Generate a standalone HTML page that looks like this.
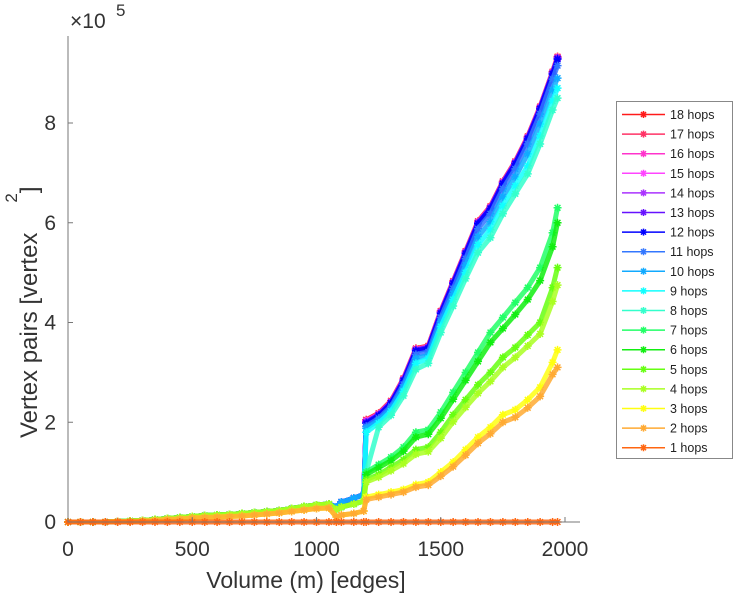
<!DOCTYPE html>
<html><head><meta charset="utf-8"><style>
body{margin:0;background:#fff;}
svg{display:block;font-family:"Liberation Sans",sans-serif;}
</style></head><body>
<svg id="chart" width="735" height="600" viewBox="0 0 735 600">
<g id="series"></g>
<g id="axes"></g>
<g id="legend"></g>
</svg>
<script>
const xs=[0,50,100,150,200,250,300,350,400,450,500,550,600,650,700,750,800,850,900,950,1000,1050,1080,1100,1150,1190,1200,1250,1300,1350,1400,1450,1500,1550,1600,1650,1700,1750,1800,1850,1900,1950,1970];
const preHi=[0,0,0,0,1,2,3,5,7,9,11,13,14,15,17,19,21,23,27,31,34,36];
const preLo=[0,0,0,0,1,1,2,3,5,6,8,9,10,11,12,14,16,18,21,24,27,28];
// values in units of 1e3 vertex^2, tail from x=1080 onward
const tail18=[30,40,48,55,205,218,243,288,348,353,423,483,543,603,633,683,723,773,833,903,933];
const tail17=[30,40,48,55,204,217,242,287,347,352,422,482,542,602,632,682,722,772,832,902,932];
const tail16=[30,40,48,55,203,216,241,286,346,351,421,481,541,601,631,681,721,771,831,901,931];
const tail15=[30,40,48,55,202,216,241,286,346,351,421,481,541,601,631,681,721,771,831,901,931];
const tail14=[30,40,48,55,201,215,240,285,345,350,420,480,540,600,630,680,720,770,830,900,930];
const tail13=[30,40,48,55,200,215,240,285,345,350,420,480,540,600,630,680,720,770,830,900,930];
const tail12=[30,40,48,55,198,213,238,283,343,348,418,478,538,598,628,678,718,768,828,898,928];
const tail11=[30,40,48,55,192,208,232,276,336,341,410,468,528,588,618,668,708,758,818,888,915];
const tail10=[30,40,48,55,188,204,228,270,328,334,402,458,515,572,602,652,692,738,798,866,890];
const tail9=[25,30,36,42,180,198,222,262,318,328,392,446,500,556,586,634,674,714,774,844,870];
const tail8=[25,30,36,42,100,190,214,253,306,318,380,433,488,540,570,618,658,698,758,826,850];
const tail7=[25,30,36,42,100,115,130,150,180,185,220,260,300,340,380,410,440,470,510,580,630];
const tail6=[25,30,36,42,95,109,123,142,170,176,208,246,284,322,360,388,416,446,484,552,600];
const tail5=[25,30,36,42,85,95,110,125,145,150,180,215,245,275,300,330,350,375,400,470,510];
const tail4=[25,30,36,42,80,90,103,117,136,141,168,201,230,258,282,310,330,353,377,442,475];
const tail3=[10,14,17,22,50,55,60,65,75,80,100,120,145,170,190,215,225,245,270,320,345];
const tail2=[10,14,17,22,45,50,55,60,70,74,92,111,134,158,177,200,210,229,252,296,310];
const tail1=[0,0,0,0,0,0,0,0,0,0,0,0,0,0,0,0,0,0,0,0,0];
const names=["18 hops","17 hops","16 hops","15 hops","14 hops","13 hops","12 hops","11 hops","10 hops","9 hops","8 hops","7 hops","6 hops","5 hops","4 hops","3 hops","2 hops","1 hops"];
const colors=["#ff1a1a","#ff3366","#ff33cc","#ff44ff","#aa33ff","#6611ff","#0000ff","#3377ff","#11aaff","#11ffff","#33ffcc","#22ff66","#11ee11","#66ff11","#aaff22","#ffff11","#ffaa33","#ff6611"];
const zero=new Array(22).fill(0);
const series=[preHi.concat(tail18),preHi.concat(tail17),preHi.concat(tail16),preHi.concat(tail15),preHi.concat(tail14),preHi.concat(tail13),preHi.concat(tail12),preHi.concat(tail11),preHi.concat(tail10),preHi.concat(tail9),preHi.concat(tail8),preHi.concat(tail7),preHi.concat(tail6),preHi.concat(tail5),preHi.concat(tail4),preLo.concat(tail3),preLo.concat(tail2),zero.concat(tail1)];
const xTicks=[0,500,1000,1500,2000];
const yTicks=[0,2,4,6,8];

const NS="http://www.w3.org/2000/svg";
const X0=68,X1=580,Y0=522,YT=36;
const sx=v=>X0+v*(565-68)/2000;
const sy=v=>Y0-v*(399/800);
function mk(t,a,p){const e=document.createElementNS(NS,t);for(const k in a)e.setAttribute(k,a[k]);p.appendChild(e);return e;}
function star(x,y,r){r=r||2.8;const d=r*0.72;return `M${x-r} ${y}H${x+r}M${x} ${y-r}V${y+r}M${x-d} ${y-d}L${x+d} ${y+d}M${x-d} ${y+d}L${x+d} ${y-d}`;}
const sg=document.getElementById('series');
for(let i=0;i<series.length;i++){
  const vals=series[i];
  const g=mk('g',{},sg);
  
  
  let d='',m='';
  vals.forEach((v,j)=>{const x=sx(xs[j]),y=sy(v);d+=(j?'L':'M')+x.toFixed(1)+' '+y.toFixed(1);m+=star(x,y,4);});
  const l=mk('path',{d:d,fill:'none',stroke:colors[i],'stroke-width':5,'stroke-linejoin':'round','stroke-opacity':0.85},g);
  
  
  const mm=mk('path',{d:m,fill:'none',stroke:colors[i],'stroke-width':1.5},g);
  
  
}
const ax=document.getElementById('axes');
mk('path',{d:`M${X0} ${YT}V${Y0}H${X1}`,fill:'none',stroke:'#777','stroke-width':1},ax);
xTicks.forEach(t=>{const x=sx(t);mk('path',{d:`M${x} ${Y0}v-5`,stroke:'#777'},ax);
 const tx=mk('text',{x:x,y:Y0+34,'text-anchor':'middle','font-size':21,fill:'#333'},ax);tx.textContent=t;
 
 });
yTicks.forEach(t=>{const y=sy(t*100);mk('path',{d:`M${X0} ${y}h5`,stroke:'#777'},ax);
 const tx=mk('text',{x:X0-12,y:y+7,'text-anchor':'end','font-size':21,fill:'#333'},ax);tx.textContent=t;
 
 });
const xl=mk('text',{x:306,y:588,'text-anchor':'middle','font-size':23,fill:'#333'},ax);xl.textContent='Volume (m) [edges]';


const yl=mk('text',{transform:'translate(37,438) rotate(-90)','font-size':24,fill:'#333'},ax);


yl.innerHTML='Vertex pairs [vertex<tspan dx="30" dy="-20" font-size="17">2</tspan><tspan dy="20">]</tspan>';
const ex=mk('text',{x:70,y:28,'font-size':21,fill:'#333'},ax);ex.textContent='×10';


const e5=mk('text',{x:116,y:16,'font-size':17,fill:'#333'},ax);e5.textContent='5';


const lg=document.getElementById('legend');
const box=mk('rect',{x:616.5,y:101.5,width:116,height:357,fill:'#fff',stroke:'#888'},lg);


names.forEach((n,i)=>{const y=114.5+i*19.6;
 const g=mk('g',{},lg);
 
 
 mk('path',{d:`M622 ${y}H665`,stroke:colors[i],'stroke-width':1.5},g);
 mk('path',{d:star(643.5,y,3.5),stroke:colors[i],fill:'none','stroke-width':1.5},g);
 const t=mk('text',{x:670,y:y+4.5,'font-size':12.5,fill:'#222'},g);t.textContent=n;});
</script>
</body></html>
